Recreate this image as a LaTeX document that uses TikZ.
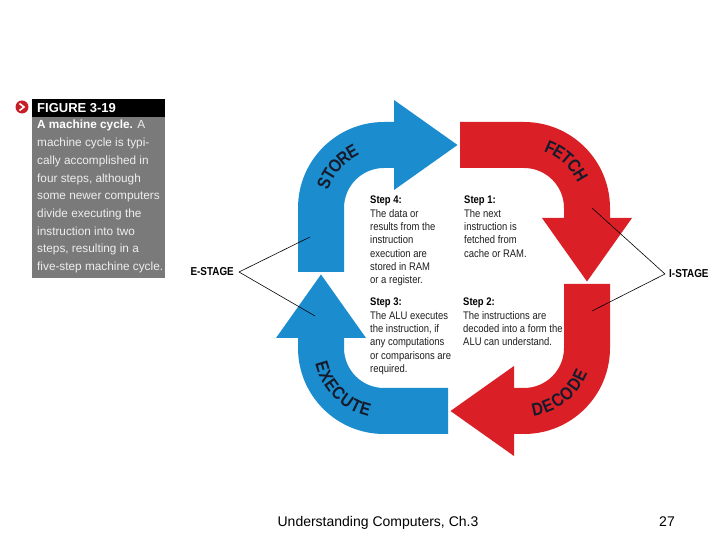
\documentclass[tikz,border=0pt]{standalone}
\usepackage{fontspec}
\setmainfont{Liberation Sans}
\newfontfamily\condfont[FakeStretch=0.86]{Liberation Sans}
\newfontfamily\stagefont[FakeStretch=0.86]{Liberation Sans}
\usetikzlibrary{decorations.text}
\definecolor{cblue}{RGB}{27,141,207}
\definecolor{cred}{RGB}{218,32,38}
\definecolor{clabel}{RGB}{22,26,42}
\definecolor{capgray}{RGB}{122,122,122}
\definecolor{captext}{RGB}{238,238,238}
\definecolor{capred}{RGB}{200,30,40}
\definecolor{steptext}{RGB}{30,30,30}
\tikzset{
  stagelbl/.style={font=\condfont\bfseries\fontsize{11.5}{12}\selectfont, text=black, inner ysep=1pt},
  stageline/.style={draw=black, line width=0.6pt},
  steptxt/.style={anchor=base west, inner sep=0pt, text=steptext},
  arclabel/.style={decorate, decoration={text along path, text align=center, raise=-6.5pt, text color=clabel}}
}
\newcommand{\steppar}[1]{\parbox[t]{130pt}{\leavevmode\raggedright\condfont\fontsize{11}{13.3}\selectfont #1}}
\begin{document}
\begin{tikzpicture}[x=1pt,y=1pt]
\useasboundingbox (0,0) rectangle (720,540);
\fill[white] (0,0) rectangle (720,540);

% ---- caption box ----
\fill[capgray] (32,262) rectangle (165,423);
\fill[black] (32,423) rectangle (165,441);
\fill[capred] (22,433) circle[radius=6.5];
\draw[white, line width=1.6pt] (19.5,436.5) -- (24,433) -- (19.5,429.5);
\node[anchor=base west, inner sep=0pt, text=white, font=\bfseries\fontsize{13}{14}\selectfont] (fig) at (37,427) {FIGURE 3-19};
\node[anchor=base west, inner sep=0pt, text=captext] (cap) at (37,411)
 {\parbox[t]{140pt}{\leavevmode\raggedright\fontsize{11.8}{17.7}\selectfont
 {\bfseries\color{white}A machine cycle.} A\\
 machine cycle is typi-\\
 cally accomplished in\\
 four steps, although\\
 some newer computers\\
 divide executing the\\
 instruction into two\\
 steps, resulting in a\\
 five-step machine cycle.}};

% ---- cycle arrows ----
\begin{scope}[shift={(454,262)}]
 \fill[cblue] (-156,6) -- (-156,70) arc[start angle=180,end angle=90,radius=86] -- (-60,156) -- (-60,178) -- (3.5,133) -- (-60,88) -- (-60,110) -- (-70,110) arc[start angle=90,end angle=180,radius=40] -- (-110,6) -- cycle;
\end{scope}
\begin{scope}[shift={(454,262)},rotate=-90]
 \fill[cred] (-156,6) -- (-156,70) arc[start angle=180,end angle=90,radius=86] -- (-60,156) -- (-60,178) -- (3.5,133) -- (-60,88) -- (-60,110) -- (-70,110) arc[start angle=90,end angle=180,radius=40] -- (-110,6) -- cycle;
\end{scope}
\begin{scope}[shift={(454,262)},rotate=-180]
 \fill[cred] (-156,6) -- (-156,70) arc[start angle=180,end angle=90,radius=86] -- (-60,156) -- (-60,178) -- (3.5,133) -- (-60,88) -- (-60,110) -- (-70,110) arc[start angle=90,end angle=180,radius=40] -- (-110,6) -- cycle;
\end{scope}
\begin{scope}[shift={(454,262)},rotate=90]
 \fill[cblue] (-156,6) -- (-156,70) arc[start angle=180,end angle=90,radius=86] -- (-60,156) -- (-60,178) -- (3.5,133) -- (-60,88) -- (-60,110) -- (-70,110) arc[start angle=90,end angle=180,radius=40] -- (-110,6) -- cycle;
\end{scope}

% ---- arc labels ----
\path[arclabel, decoration={text={|\stagefont\bfseries\fontsize{18}{18}\selectfont|STORE}}]
  ([shift={(180:65)}]384,332) arc[start angle=180,end angle=97,radius=65];
\path[arclabel, decoration={text={|\stagefont\bfseries\fontsize{18}{18}\selectfont|FETCH}}]
  ([shift={(90:66)}]524,332) arc[start angle=90,end angle=6,radius=66];
\path[arclabel, decoration={text={|\stagefont\bfseries\fontsize{18}{18}\selectfont|DECODE}}]
  ([shift={(-100:62)}]524,192) arc[start angle=-100,end angle=-4,radius=62];
\path[arclabel, decoration={text={|\stagefont\bfseries\fontsize{18}{18}\selectfont|EXECUTE}}]
  ([shift={(180:64)}]384,192) arc[start angle=180,end angle=270,radius=64];

% ---- step texts ----
\node[steptxt] (s4) at (370,336) {\steppar{{\bfseries\color{black}Step 4:}\\The data or\\results from the\\instruction\\execution are\\stored in RAM\\or a register.}};
\node[steptxt] (s1) at (464,336) {\steppar{{\bfseries\color{black}Step 1:}\\The next\\instruction is\\fetched from\\cache or RAM.}};
\node[steptxt] (s3) at (370,234) {\steppar{{\bfseries\color{black}Step 3:}\\The ALU executes\\the instruction, if\\any computations\\or comparisons are\\required.}};
\node[steptxt] (s2) at (463,234) {\steppar{{\bfseries\color{black}Step 2:}\\The instructions are\\decoded into a form the\\ALU can understand.}};

% ---- stage labels ----
\node[stagelbl, anchor=east, inner xsep=5pt] (estage) at (239,268) {E-STAGE};
\coordinate (e1) at (310,303);
\coordinate (e2) at (315,224);
\draw[stageline] (estage.east) -- (e1);
\draw[stageline] (estage.east) -- (e2);
\node[stagelbl, anchor=west, inner xsep=4pt] (istage) at (665,266) {I-STAGE};
\coordinate (i1) at (592,332);
\coordinate (i2) at (592,229);
\draw[stageline] (istage.west) -- (i1);
\draw[stageline] (istage.west) -- (i2);

% ---- footer ----
\node[anchor=base, inner sep=0pt, font=\fontsize{14}{16}\selectfont] (foot) at (378,13.5) {Understanding Computers, Ch.3};
\node[anchor=base, inner sep=0pt, font=\fontsize{14}{16}\selectfont] (page) at (667,13.5) {27};
\end{tikzpicture}
\end{document}
